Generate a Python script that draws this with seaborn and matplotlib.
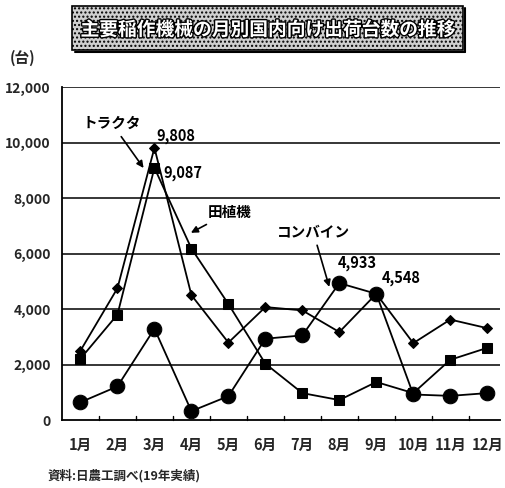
import matplotlib
matplotlib.use("Agg")
import matplotlib.pyplot as plt
import matplotlib.patheffects as pe
from matplotlib.patches import Rectangle
import numpy as np
import pandas as pd
import seaborn as sns

months = ["1月", "2月", "3月", "4月", "5月", "6月", "7月", "8月", "9月", "10月", "11月", "12月"]
tractor = [2500, 4750, 9808, 4500, 2790, 4070, 3950, 3170, 4548, 2770, 3620, 3310]
transplanter = [2210, 3800, 9087, 6180, 4180, 2030, 970, 720, 1370, 970, 2170, 2600]
combine = [640, 1210, 3290, 320, 860, 2930, 3050, 4933, 4548, 920, 870, 970]
series_names = ["トラクタ", "田植機", "コンバイン"]
yticks = [0, 2000, 4000, 6000, 8000, 10000, 12000]

sns.set_theme(style="white")
plt.rcParams["font.family"] = ["Noto Sans CJK JP", "DejaVu Sans"]
plt.rcParams["font.weight"] = "bold"
plt.rcParams["hatch.color"] = "#555555"

df = pd.DataFrame({
    "月": list(range(12)) * 3,
    "台数": tractor + transplanter + combine,
    "機種": [series_names[0]] * 12 + [series_names[1]] * 12 + [series_names[2]] * 12,
})

fig = plt.figure(figsize=(5.06, 4.88), dpi=100)
ax = fig.add_axes([0.1225, 0.1393, 0.866, 0.6824])

for val in yticks[1:]:
    ax.axhline(val, color="black", lw=1.1, zorder=1)

sns.lineplot(
    data=df, x="月", y="台数", hue="機種", style="機種",
    palette={n: "black" for n in series_names},
    markers={series_names[0]: "D", series_names[1]: "s", series_names[2]: "o"},
    dashes=False, lw=1.3, legend=False, ax=ax, zorder=3,
)
for line, ms in zip(ax.lines[-3:], [5, 6.5, 10.5]):
    line.set_markersize(ms)
    line.set_markeredgecolor("black")
    line.set_markerfacecolor("black")

ax.set_xlim(-0.5, 11.35)
ax.set_ylim(0, 12000)
ax.set_xticks(range(12))
ax.set_xticklabels(months, fontsize=10.5, fontweight="bold")
ax.set_yticks(yticks)
ax.set_yticklabels([f"{v:,}" for v in yticks], fontsize=10, fontweight="bold")
ax.tick_params(axis="x", length=0, pad=12)
ax.tick_params(axis="y", length=0, pad=8)
ax.set_xlabel("")
ax.set_ylabel("")
for s in ["top", "right"]:
    ax.spines[s].set_visible(False)
for s in ["left", "bottom"]:
    ax.spines[s].set_color("black")
    ax.spines[s].set_linewidth(1.3)

# short ticks between months on the baseline
for b in np.arange(0.5, 11, 1):
    ax.plot([b, b], [0, 150], color="black", lw=1, zorder=2, clip_on=False)

txt = dict(fontsize=10.5, fontweight="bold", color="black")
arrow = dict(arrowstyle="-|>", color="black", lw=1.2, mutation_scale=10)
ax.annotate("トラクタ", xy=(1.75, 9000), xytext=(0.05, 10700), **txt, arrowprops=arrow,
            ha="left", va="center")
ax.text(2.05, 10250, f"{tractor[2]:,}", **txt, ha="left", va="center")
ax.text(2.25, 8900, f"{transplanter[2]:,}", **txt, ha="left", va="center")
ax.annotate("田植機", xy=(2.92, 6700), xytext=(3.45, 7500), **txt, arrowprops=arrow,
            ha="left", va="center")
ax.annotate("コンバイン", xy=(6.75, 4700), xytext=(5.3, 6800), **txt, arrowprops=arrow,
            ha="left", va="center")
ax.text(6.95, 5650, f"{combine[7]:,}", **txt, ha="left", va="center")
ax.text(8.15, 5100, f"{combine[8]:,}", **txt, ha="left", va="center")

# title banner
box = Rectangle((72 / 506, 1 - 50 / 488), 391 / 506, 44 / 488, transform=fig.transFigure,
                facecolor="#cfcfcf", edgecolor="black", hatch="....", lw=1.2, zorder=0)
fig.patches.append(box)
fig.lines.append(plt.Line2D([75 / 506, 465 / 506], [1 - 52 / 488, 1 - 52 / 488],
                            transform=fig.transFigure, color="black", lw=1.5))
fig.lines.append(plt.Line2D([465 / 506, 465 / 506], [1 - 52 / 488, 1 - 8 / 488],
                            transform=fig.transFigure, color="black", lw=1.5))
fig.text(268 / 506, 1 - 30 / 488, "主要稲作機械の月別国内向け出荷台数の推移",
         ha="center", va="center", fontsize=13.5, fontweight="bold", color="white",
         path_effects=[pe.withStroke(linewidth=2, foreground="black")])

fig.text(10 / 506, 1 - 58 / 488, "(台)", fontsize=10.5, fontweight="bold", ha="left", va="center")
fig.text(48 / 506, 1 - 476 / 488, "資料:日農工調べ(19年実績)", fontsize=9,
         fontweight="bold", ha="left", va="center")

fig.savefig("out.png", dpi=100)
